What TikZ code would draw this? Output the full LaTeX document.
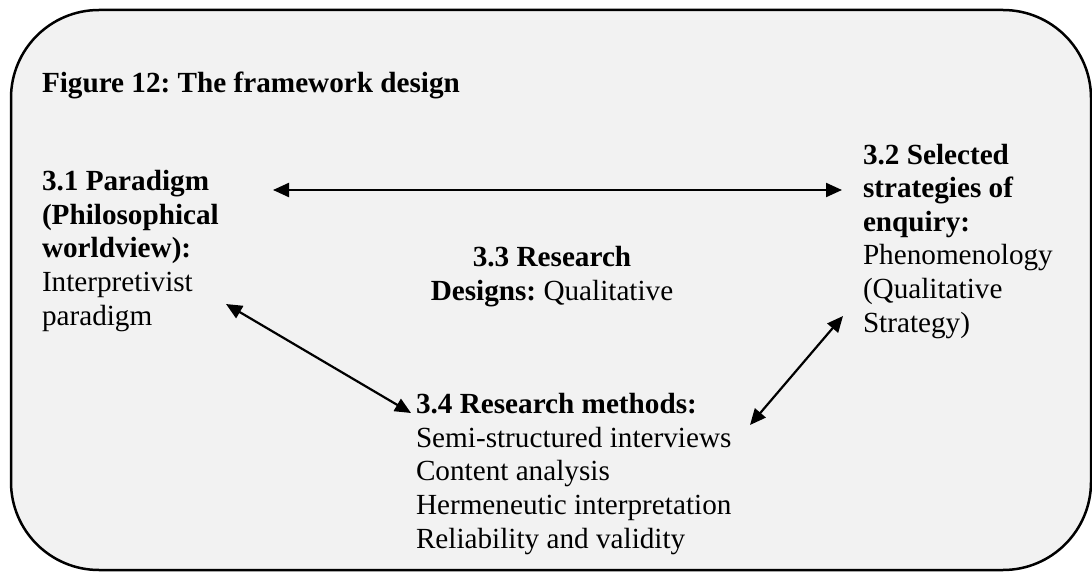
\documentclass[tikz,border=0pt]{standalone}
\usepackage{fontspec}
\setmainfont{Liberation Serif}
\usetikzlibrary{arrows.meta}
\definecolor{panel}{HTML}{F2F2F2}
\frenchspacing
\tikzset{
  txt/.style={inner sep=0pt, outer sep=0pt, align=left, anchor=base west,
    font=\fontsize{29.2}{33.6}\selectfont\frenchspacing},
  ctxt/.style={txt, align=center, anchor=base},
  link/.style={line width=2.2pt, {Triangle[length=16pt,width=14pt]}-{Triangle[length=16pt,width=14pt]}},
  frame/.style={draw=black, line width=2.5pt, fill=panel, rounded corners=88pt}
}
\begin{document}
\begin{tikzpicture}[x=1pt,y=-1pt]
\useasboundingbox (0,0) rectangle (1092,572);
\clip (0,0) rectangle (1092,572);
\draw[frame] (11,10) rectangle (1091,570);
% anchors: base of the last line of each block
\node[txt, font=\fontsize{29.2}{33.6}\selectfont\bfseries\frenchspacing] (title) at (42,93) {Figure 12: The framework design};
\node[txt] (p31) at (42,325) {\textbf{3.1 Paradigm}\\\textbf{(Philosophical}\\\textbf{worldview):}\\Interpretivist\\paradigm};
\node[txt] (p32) at (863,332) {\textbf{3.2 Selected}\\\textbf{strategies of}\\\textbf{enquiry:}\\Phenomenology\\(Qualitative\\Strategy)};
\node[ctxt] (p33) at (552,300) {\textbf{3.3 Research}\\\textbf{Designs:} Qualitative};
\node[txt] (p34) at (416,548) {\textbf{3.4 Research methods:}\\Semi-structured interviews\\Content analysis\\Hermeneutic interpretation\\Reliability and validity};
\coordinate (a1) at (273,190);
\coordinate (b1) at (842,190);
\coordinate (a2) at (226,304);
\coordinate (b2) at (411,413);
\coordinate (a3) at (843,316);
\coordinate (b3) at (750,425);
\draw[link] (a1) -- (b1);
\draw[link] (a2) -- (b2);
\draw[link] (a3) -- (b3);
\end{tikzpicture}
\end{document}
